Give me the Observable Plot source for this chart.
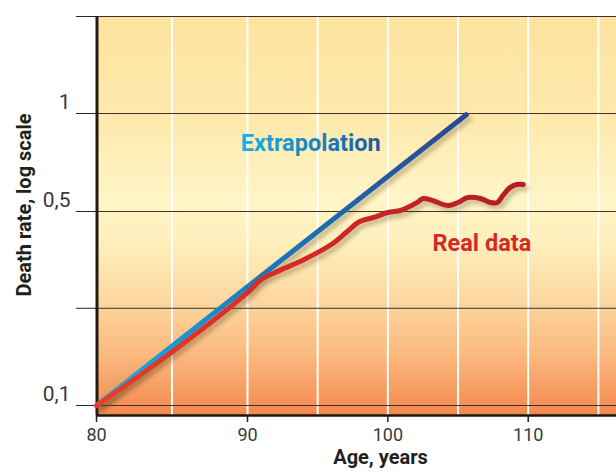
<!DOCTYPE html>
<html><head><meta charset="utf-8">
<script src="https://cdn.jsdelivr.net/npm/d3@7"></script>
<script src="https://cdn.jsdelivr.net/npm/@observablehq/plot@0.6"></script>
<style>body{margin:0;background:#fff} svg{display:block}</style>
</head><body><div id="chart"></div>
<script>
// ---- data ----
const extrapAge = [80, 105.7];
const extrapRate = [0.1, 1];
const realAge  = [80, 85, 90, 91, 92, 94, 96, 97, 98, 99, 100, 100.9, 101.4, 102.1, 102.5, 103.2, 104.3, 105, 105.7, 106.6, 107.3, 107.8, 108.2, 108.7, 109.2, 109.65];
const realRate = [0.1, 0.156, 0.255, 0.285, 0.302, 0.335, 0.381, 0.419, 0.46, 0.476, 0.496, 0.5035, 0.514, 0.533, 0.548, 0.540, 0.5215, 0.533, 0.552, 0.548, 0.533, 0.533, 0.560, 0.592, 0.605, 0.605];
const xTicks = [80, 90, 100, 110];
const xGrid = [85, 90, 95, 100, 105, 110, 115];
const yGrid = [2, 1, 0.5, 0.224, 0.1];
const yTickValues = [1, 0.5, 0.1];
const yTickLabels = ["1", "0,5", "0,1"];
const seriesLabels = [
  {text: "Extrapolation", age: 94.5, rate: 0.81, fill: "url(#txtGrad)"},
  {text: "Real data", age: 106.7, rate: 0.383, fill: "#d42a27"}
];
const xTitle = "Age, years";
const yTitle = "Death rate, log scale";

const extrap = extrapAge.map((a, i) => ({age: a, rate: extrapRate[i]}));
const real = realAge.map((a, i) => ({age: a, rate: realRate[i]}));
const yDomain = [0.092, 0.1, 0.5, 1, 2];

const plot = Plot.plot({
  width: 616, height: 473,
  marginLeft: 96, marginRight: 0, marginTop: 16, marginBottom: 58,
  style: {fontFamily: "Roboto, sans-serif", color: "#3a3a3a", background: "transparent"},
  x: {type: "linear", domain: [80, 90, 116.29], range: [96, 247, 616]},
  y: {type: "log", domain: yDomain, range: [415, 405, 211, 113, 16]},
  marks: [
    Plot.frame({fill: "url(#bgGrad)", stroke: null}),
    Plot.ruleX(xGrid, {stroke: "#ffffff", strokeWidth: 2}),
    Plot.ruleY(yGrid, {stroke: "#3b3325", strokeWidth: 1}),
    Plot.axisY(yGrid, {tickSize: 20, tickFormat: () => "", stroke: "#2b251c", label: null}),
    Plot.axisY(yTickValues, {tickSize: 0, tickPadding: 26, fontSize: 21, dy: -11, label: null,
      tickFormat: d => yTickLabels[yTickValues.indexOf(d)]}),
    Plot.ruleX([80], {stroke: "#221a12", strokeWidth: 3, dx: 0.5}),
    Plot.ruleY([yDomain[0]], {stroke: "#1d1710", strokeWidth: 2.5}),
    Plot.axisX(xTicks, {tickSize: 7, tickPadding: 6, fontSize: 18, stroke: "#222", strokeWidth: 1.5, label: null}),
    Plot.line(extrap, {x: "age", y: "rate", stroke: "url(#blueGrad)", strokeWidth: 5, strokeLinecap: "butt"}),
    Plot.line(real, {x: "age", y: "rate", stroke: "url(#redGrad)", strokeWidth: 5, curve: "catmull-rom", strokeLinecap: "round"}),
    Plot.text(seriesLabels, {x: "age", y: "rate", text: "text", fill: "fill", fontSize: 23.5, fontWeight: "bold"}),
    Plot.text([xTitle], {frameAnchor: "bottom", dx: 24, dy: 48, fontSize: 20, fontWeight: "bold", fill: "#231f1c"}),
    Plot.text([yTitle], {frameAnchor: "left", textAnchor: "middle", rotate: -90, dx: -72, dy: -11, fontSize: 20, fontWeight: "bold", fill: "#231f1c"})
  ]
});

const svg = d3.select(plot);
const defs = svg.insert("defs", ":first-child");
function grad(id, x1, y1, x2, y2, stops) {
  const g = defs.append("linearGradient").attr("id", id)
    .attr("x1", x1).attr("y1", y1).attr("x2", x2).attr("y2", y2);
  stops.forEach(([o, c]) => g.append("stop").attr("offset", o).attr("stop-color", c));
}
grad("bgGrad", 0, 0, 0, 1, [[0, "#fde39f"], [0.26, "#fee9ac"], [0.46, "#fff5c7"], [0.56, "#fff0bc"], [0.71, "#fdd8a0"], [0.84, "#fbbb80"], [1, "#f4874e"]]);
grad("blueGrad", 0, 1, 1, 0, [[0, "#17b6ec"], [0.45, "#1a78bd"], [1, "#2b4596"]]);
grad("redGrad", 0, 0, 1, 0, [[0, "#e83d28"], [0.4, "#d62c26"], [1, "#b41b25"]]);
grad("txtGrad", 0, 0, 1, 0, [[0, "#14b3ea"], [1, "#1d5aa3"]]);
svg.selectAll('[stroke="url(#redGrad)"], [stroke="url(#blueGrad)"]')
  .style("filter", "drop-shadow(3px 4px 2px rgba(90,70,30,0.35))");

document.getElementById("chart").append(plot);
</script>
</body></html>
